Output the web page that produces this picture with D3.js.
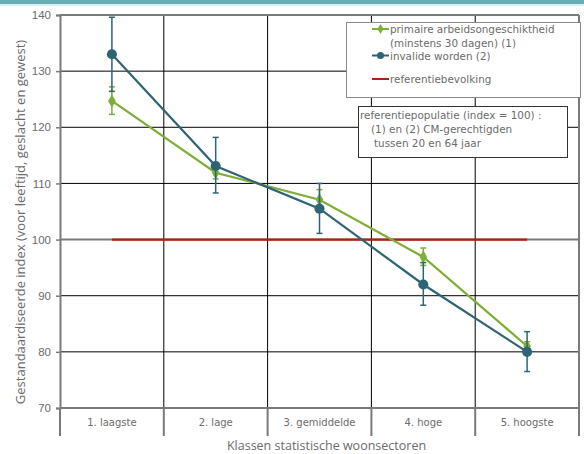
<!DOCTYPE html>
<html><head><meta charset="utf-8">
<script src="https://cdn.jsdelivr.net/npm/d3@7"></script>
<style>body{margin:0;background:#fff}svg{display:block}</style>
</head><body>
<svg id="c" width="584" height="454"></svg>
<script>
const categories = ["1. laagste","2. lage","3. gemiddelde","4. hoge","5. hoogste"];
const greenValues = [124.7,111.9,107.1,96.9,81.0];
const greenLow    = [122.3,110.8,105.3,95.4,80.2];
const greenHigh   = [127.2,113.0,108.9,98.5,81.8];
const blueValues  = [133.0,113.1,105.5,92.0,80.0];
const blueLow     = [126.4,108.3,101.1,88.3,76.5];
const blueHigh    = [139.6,118.2,110.0,95.9,83.6];
const refValue = 100;
const yTicks = [70,80,90,100,110,120,130,140];
const legendLabels = [["primaire arbeidsongeschiktheid","(minstens 30 dagen) (1)"],["invalide worden (2)"],["referentiebevolking"]];
const noteLines = ["referentiepopulatie (index = 100) :","(1) en (2) CM-gerechtigden","tussen 20 en 64 jaar"];
const yTitle = "Gestandaardiseerde index (voor leeftijd, geslacht en gewest)";
const xTitle = "Klassen statistische woonsectoren";

const GREEN="#7dae35", BLUE="#2f6474", RED="#b3200f", AX="#7a7a7a", TXT="#6b6b6b";
const svg = d3.select("#c");
const L=60, R=579, T=15, B=408;
const x = d3.scaleBand().domain(categories).range([L,R]).padding(0);
const y = d3.scaleLinear().domain([70,140]).range([B,T]);
const cx = c => x(c)+x.bandwidth()/2;

// top band
svg.append("rect").attr("x",0).attr("y",0).attr("width",584).attr("height",4).attr("fill","#67aeb7");
svg.append("rect").attr("x",0).attr("y",4).attr("width",584).attr("height",2).attr("fill","#dcefef");

// horizontal grid
svg.append("g").selectAll("line").data(yTicks.filter(t=>t>70 && t<140)).join("line")
  .attr("x1",L).attr("x2",R).attr("y1",d=>y(d)).attr("y2",d=>y(d))
  .attr("stroke",d=>d===100?AX:"#000").attr("stroke-width",d=>d===100?2:1);
// vertical grid
svg.append("g").selectAll("line").data(categories.slice(1)).join("line")
  .attr("x1",d=>x(d)).attr("x2",d=>x(d)).attr("y1",T).attr("y2",B)
  .attr("stroke","#000").attr("stroke-width",1);
// borders
svg.append("line").attr("x1",L).attr("x2",R).attr("y1",y(140)).attr("y2",y(140)).attr("stroke",AX).attr("stroke-width",2);
svg.append("line").attr("x1",R).attr("x2",R).attr("y1",T).attr("y2",B).attr("stroke",AX).attr("stroke-width",2);

// y axis
const yAxis = d3.axisLeft(y).tickValues(yTicks).tickSize(4).tickPadding(5).tickFormat(d3.format("d"));
const ya = svg.append("g").attr("transform",`translate(${L},0)`).call(yAxis);
ya.select(".domain").attr("stroke",AX).attr("stroke-width",2);
ya.selectAll(".tick line").attr("stroke",AX).attr("stroke-width",1.5);
ya.selectAll(".tick text").attr("fill",TXT).attr("font-family","Liberation Sans, Arial, sans-serif").attr("font-size",11.5);

// x axis (category band)
const xAxis = d3.axisBottom(x).tickSize(0).tickPadding(11);
const xa = svg.append("g").attr("transform",`translate(0,${B})`).call(xAxis);
xa.select(".domain").remove();
xa.selectAll(".tick text").attr("fill",TXT).attr("font-family","DejaVu Sans, Verdana, sans-serif").attr("font-size",10);
svg.append("line").attr("x1",L).attr("x2",R).attr("y1",B).attr("y2",B).attr("stroke",AX).attr("stroke-width",2);
svg.append("g").selectAll("line").data(categories.concat(["__end"])).join("line")
  .attr("x1",(d,i)=>i<categories.length?x(d):R).attr("x2",(d,i)=>i<categories.length?x(d):R)
  .attr("y1",B).attr("y2",B+28).attr("stroke",AX).attr("stroke-width",2);

// titles
svg.append("text").attr("transform",`translate(25,222) rotate(-90)`).attr("text-anchor","middle")
  .attr("fill",TXT).attr("font-family","Open Sans, sans-serif").attr("font-size",13).text(yTitle);
svg.append("text").attr("x",(L+R)/2+7).attr("y",450).attr("text-anchor","middle")
  .attr("fill",TXT).attr("font-family","Open Sans, sans-serif").attr("font-size",12.5).text(xTitle);

// reference line
svg.append("line").attr("x1",cx(categories[0])).attr("x2",cx(categories[categories.length-1]))
  .attr("y1",y(refValue)).attr("y2",y(refValue)).attr("stroke",RED).attr("stroke-width",2.2);

function series(vals,lo,hi,color,marker){
  const g = svg.append("g");
  const data = categories.map((c,i)=>({c,v:vals[i],lo:lo[i],hi:hi[i]}));
  g.selectAll(".eb").data(data).join("line").attr("x1",d=>cx(d.c)).attr("x2",d=>cx(d.c))
    .attr("y1",d=>y(d.lo)).attr("y2",d=>y(d.hi)).attr("stroke",color).attr("stroke-width",1.5);
  ["lo","hi"].forEach(k=>{
    g.selectAll(".cap"+k).data(data).join("line").attr("x1",d=>cx(d.c)-3).attr("x2",d=>cx(d.c)+3)
      .attr("y1",d=>y(d[k])).attr("y2",d=>y(d[k])).attr("stroke",color).attr("stroke-width",1.5);
  });
  g.append("path").datum(data).attr("fill","none").attr("stroke",color).attr("stroke-width",2.2)
    .attr("d",d3.line().x(d=>cx(d.c)).y(d=>y(d.v)));
  g.selectAll(".m").data(data).join("path").attr("transform",d=>`translate(${cx(d.c)},${y(d.v)})`)
    .attr("d",d3.symbol().type(marker==="circle"?d3.symbolCircle:d3.symbolDiamond).size(marker==="circle"?80:50))
    .attr("fill",color);
}
series(greenValues,greenLow,greenHigh,GREEN,"diamond");
series(blueValues,blueLow,blueHigh,BLUE,"circle");

// legend
const lg = svg.append("g");
lg.append("rect").attr("x",346.5).attr("y",22.5).attr("width",234).attr("height",75).attr("fill","#fff").attr("stroke","#8a8a8a").attr("stroke-width",1);
const lf = "DejaVu Sans, Verdana, sans-serif";
const legendRows = [{y:29,color:GREEN,m:"diamond",lines:legendLabels[0],gap:13.5},{y:55.5,color:BLUE,m:"circle",lines:legendLabels[1],gap:0},{y:79,color:RED,m:null,lines:legendLabels[2],gap:0}];
legendRows.forEach(r=>{
  lg.append("line").attr("x1",372).attr("x2",389).attr("y1",r.y).attr("y2",r.y).attr("stroke",r.color).attr("stroke-width",2);
  if(r.m) lg.append("path").attr("transform",`translate(380.5,${r.y})`)
    .attr("d",d3.symbol().type(r.m==="circle"?d3.symbolCircle:d3.symbolDiamond).size(r.m==="circle"?40:30)).attr("fill",r.color);
  r.lines.forEach((t,i)=>lg.append("text").attr("x",390).attr("y",r.y+4+i*r.gap).attr("fill",TXT)
    .attr("font-family",lf).attr("font-size",10.4).text(t));
});
// note box
svg.append("rect").attr("x",358.5).attr("y",106.5).attr("width",209).attr("height",51).attr("fill","#fff").attr("stroke","#333").attr("stroke-width",1);
const noteX=[360,371,374];
noteLines.forEach((t,i)=>svg.append("text").attr("x",noteX[i]).attr("y",119+i*14).attr("fill",TXT)
  .attr("font-family",lf).attr("font-size",10.4).text(t));
</script>
</body></html>
